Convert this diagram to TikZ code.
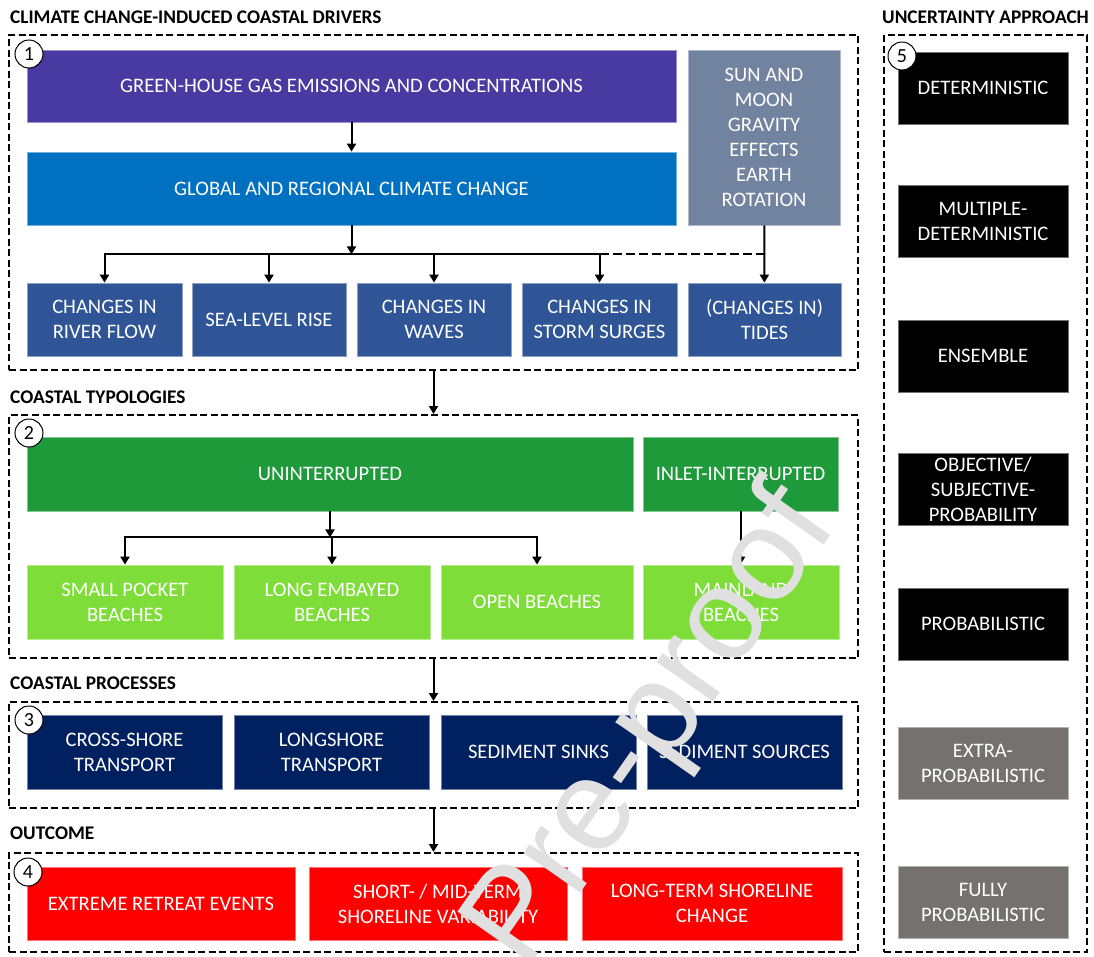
\documentclass[tikz,border=0pt]{standalone}
\usepackage{fontspec}
\setmainfont{Carlito}
\newfontfamily\proofont{Liberation Sans}
\usetikzlibrary{arrows.meta}
\definecolor{ghgpurple}{RGB}{72,58,160}
\definecolor{climblue}{RGB}{0,112,192}
\definecolor{astrogray}{RGB}{114,131,160}
\definecolor{driverblue}{RGB}{47,85,151}
\definecolor{typgreen}{RGB}{30,154,58}
\definecolor{beachgreen}{RGB}{126,221,56}
\definecolor{procnavy}{RGB}{0,32,96}
\definecolor{outred}{RGB}{255,0,0}
\definecolor{apprgray}{RGB}{118,113,113}
\begin{document}
\begin{tikzpicture}[x=1pt, y=-1pt,
  box/.style={rectangle, fill=#1, draw=#1!55!white, line width=0.8pt, text=white, align=center, inner sep=0pt, font=\fontsize{20.6}{25}\selectfont},
  frame/.style={rectangle, draw, line width=2pt, dash pattern=on 7pt off 3.5pt, inner sep=0pt},
  num/.style={circle, draw, fill=white, line width=1pt, minimum size=28pt, inner sep=0pt, font=\fontsize{20}{20}\selectfont},
  heading/.style={inner sep=0pt, font=\bfseries\fontsize{19.3}{22}\selectfont},
  arr/.style={-{Triangle[width=9pt,length=8pt]}, line width=2pt},
  dline/.style={line width=2pt, dash pattern=on 9pt off 4pt}]
\useasboundingbox (0,0) rectangle (1094,956);

\node[heading, anchor=west] (tdrivers) at (10,17) {CLIMATE CHANGE-INDUCED COASTAL DRIVERS};
\node[heading] (tapproach) at (985.5,17) {UNCERTAINTY APPROACH};
\node[heading, anchor=west] (ttypologies) at (10,397) {COASTAL TYPOLOGIES};
\node[heading, anchor=west] (tprocesses) at (10,683) {COASTAL PROCESSES};
\node[heading, anchor=west] (toutcome) at (10,833) {OUTCOME};

\node[frame, minimum width=849pt, minimum height=335pt] (drivers) at (433.5,202.5) {};
\node[frame, minimum width=849pt, minimum height=243pt] (typologies) at (433.5,536.5) {};
\node[frame, minimum width=849pt, minimum height=106pt] (processes) at (433.5,755) {};
\node[frame, minimum width=849pt, minimum height=99pt] (outcome) at (433.5,902.5) {};
\node[frame, minimum width=203pt, minimum height=917pt] (approach) at (985.5,493.5) {};

\node[box=ghgpurple, minimum width=649pt, minimum height=72pt] (ghg) at (351.5,86) {GREEN-HOUSE GAS EMISSIONS AND CONCENTRATIONS};
\node[box=climblue, minimum width=649pt, minimum height=73pt] (climate) at (351.5,188.5) {GLOBAL AND REGIONAL CLIMATE CHANGE};
\node[box=astrogray, minimum width=152pt, minimum height=175pt] (astro) at (764,137.5) {SUN AND\\MOON\\GRAVITY\\EFFECTS\\EARTH\\ROTATION};
\node[box=driverblue, minimum width=155pt, minimum height=73pt] (river) at (104.5,319.5) {CHANGES IN\\RIVER FLOW};
\node[box=driverblue, minimum width=154pt, minimum height=73pt] (slr) at (269,319.5) {SEA-LEVEL RISE};
\node[box=driverblue, minimum width=154pt, minimum height=73pt] (waves) at (434,319.5) {CHANGES IN\\WAVES};
\node[box=driverblue, minimum width=155pt, minimum height=73pt] (surges) at (599.5,319.5) {CHANGES IN\\STORM SURGES};
\node[box=driverblue, minimum width=153pt, minimum height=73pt] (tides) at (764.5,319.5) {(CHANGES IN)\\TIDES};

\node[box=typgreen, minimum width=606pt, minimum height=74pt] (unint) at (330,474) {UNINTERRUPTED};
\node[box=typgreen, minimum width=195pt, minimum height=74pt] (inlet) at (740.5,474) {INLET-INTERRUPTED};
\node[box=beachgreen, minimum width=196pt, minimum height=74pt] (pocket) at (125,602) {SMALL POCKET\\BEACHES};
\node[box=beachgreen, minimum width=196pt, minimum height=74pt] (embayed) at (332,602) {LONG EMBAYED\\BEACHES};
\node[box=beachgreen, minimum width=192pt, minimum height=74pt] (open) at (537,602) {OPEN BEACHES};
\node[box=beachgreen, minimum width=196pt, minimum height=74pt] (mainland) at (741,602) {MAINLAND\\BEACHES};

\node[box=procnavy, minimum width=195pt, minimum height=74pt] (cross) at (124.5,752) {CROSS-SHORE\\TRANSPORT};
\node[box=procnavy, minimum width=195pt, minimum height=74pt] (longshore) at (331.5,752) {LONGSHORE\\TRANSPORT};
\node[box=procnavy, minimum width=195pt, minimum height=74pt] (sinks) at (538.5,752) {SEDIMENT SINKS};
\node[box=procnavy, minimum width=195pt, minimum height=74pt] (sources) at (744.5,752) {SEDIMENT SOURCES};

\node[box=outred, minimum width=268pt, minimum height=73pt] (extreme) at (161,903.5) {EXTREME RETREAT EVENTS};
\node[box=outred, minimum width=258pt, minimum height=73pt] (shortmid) at (438,903.5) {SHORT- / MID-TERM\\SHORELINE VARIABILITY};
\node[box=outred, minimum width=260pt, minimum height=73pt] (longterm) at (712,903.5) {LONG-TERM SHORELINE\\CHANGE};

\node[box=black, minimum width=170pt, minimum height=72pt] (determ) at (983,88) {DETERMINISTIC};
\node[box=black, minimum width=170pt, minimum height=72pt] (multi) at (983,221) {MULTIPLE-\\DETERMINISTIC};
\node[box=black, minimum width=170pt, minimum height=72pt] (ensemble) at (983,356) {ENSEMBLE};
\node[box=black, minimum width=170pt, minimum height=72pt] (objsubj) at (983,489) {OBJECTIVE/\\SUBJECTIVE-\\PROBABILITY};
\node[box=black, minimum width=170pt, minimum height=72pt] (prob) at (983,624) {PROBABILISTIC};
\node[box=apprgray, minimum width=170pt, minimum height=72pt] (extra) at (983,763) {EXTRA-\\PROBABILISTIC};
\node[box=apprgray, minimum width=170pt, minimum height=72pt] (fully) at (983,902) {FULLY\\PROBABILISTIC};

\node[num] (n1) at (29,54) {1};
\node[num] (n2) at (29,433) {2};
\node[num] (n3) at (29,720) {3};
\node[num] (n4) at (28,872) {4};
\node[num] (n5) at (902,56) {5};

\coordinate (split1) at ([yshift=-29pt]climate.south);
\coordinate (split2) at ([yshift=-26pt]unint.south);
\draw[arr] (ghg) -- (climate);
\draw[arr] (climate) -- (split1);
\draw[arr] (split1) -| (river.north);
\draw[arr] (split1) -| (slr.north);
\draw[arr] (split1) -| (waves.north);
\draw[arr] (split1) -| (surges.north);
\draw[dline] (split1 -| surges.north) -- (split1 -| tides.north);
\draw[arr] (astro) -- (tides);
\draw[arr] (unint) -- (split2);
\draw[arr] (split2) -| (pocket.north);
\draw[arr] (split2) -| (embayed.north);
\draw[arr] (split2) -| (open.north);
\draw[arr] (inlet.south) -- (inlet.south |- mainland.north);
\draw[arr] (drivers.south) -- (typologies.north);
\draw[arr] (typologies.south) -- (processes.north);
\draw[arr] (processes.south) -- (outcome.north);

\node[rotate=55, inner sep=0pt, text=black!12, font=\proofont\fontsize{131}{131}\selectfont] (proof) at (654,729) {Pre-proof};
\end{tikzpicture}
\end{document}
